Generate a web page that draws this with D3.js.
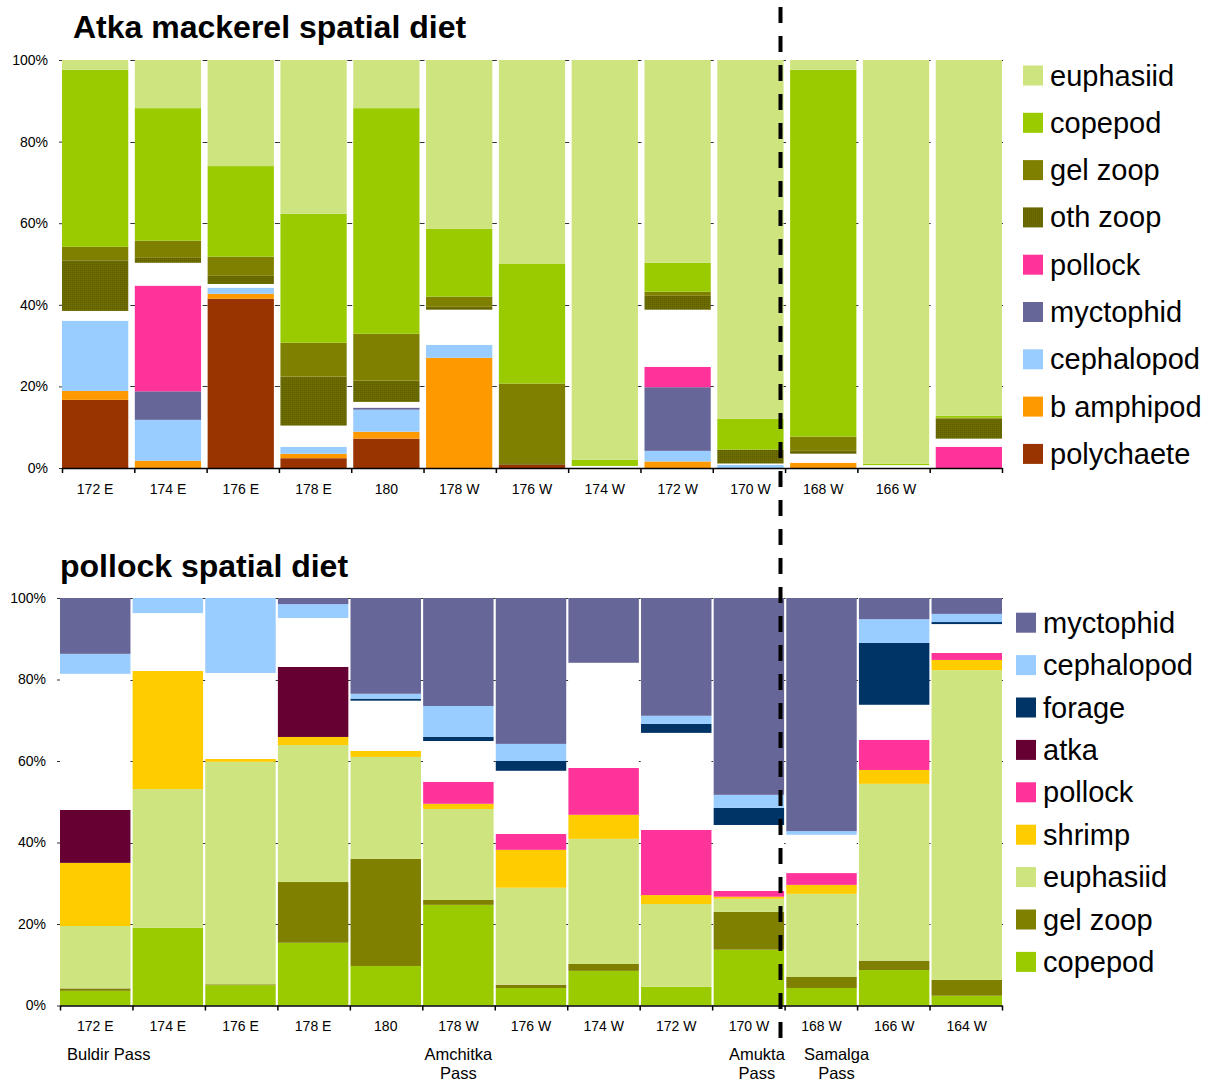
<!DOCTYPE html>
<html>
<head>
<meta charset="utf-8">
<script src="https://cdn.jsdelivr.net/npm/d3@7"></script>
<style>
  body { margin: 0; background: #fff; }
  text { font-family: "Liberation Sans", Arial, sans-serif; fill: #000; }
</style>
</head>
<body>
<svg id="svg" width="1205" height="1084"></svg>
<script>
// sites, west to east (same for both panels)
const sites = ["172 E", "174 E", "176 E", "178 E", "180", "178 W", "176 W", "174 W", "172 W", "170 W", "168 W", "166 W", "164 W"];
const atkaTickLabels = ["172 E", "174 E", "176 E", "178 E", "180", "178 W", "176 W", "174 W", "172 W", "170 W", "168 W", "166 W", ""];
const yTicks = [0, 0.2, 0.4, 0.6, 0.8, 1];

// Atka mackerel diet, percent by prey (bottom of stack first)
const atkaPolychaete = [16.7, 0, 41.5, 2.4, 7.2, 0, 0.8, 0, 0, 0, 0, 0, 0];
const atkaBAmphipod  = [2.2, 1.8, 1.2, 1.1, 1.7, 27.0, 0, 0, 1.6, 0, 1.3, 0, 0];
const atkaCephalopod = [17.2, 10.0, 1.5, 1.7, 5.4, 3.2, 0, 0, 2.6, 0.8, 0, 0, 0];
const atkaMyctophid  = [0, 7.0, 0, 0, 0.5, 0, 0, 0, 15.6, 0, 0, 0, 0];
const atkaPollock    = [0, 25.9, 0, 0, 0, 0, 0, 0, 5.0, 0, 0, 0, 5.2];
const atkaOther      = [2.4, 5.6, 0.9, 5.2, 1.4, 8.6, 0, 0.5, 14.0, 0.3, 2.2, 0.7, 2.0];
const atkaOthZoop    = [12.4, 1.2, 2.0, 12.0, 5.2, 0.7, 0.4, 0, 3.4, 3.4, 0.7, 0, 4.9];
const atkaGelZoop    = [3.3, 4.2, 4.7, 8.3, 11.5, 2.5, 19.5, 0, 1.0, 0, 3.5, 0, 0.2];
const atkaCopepod    = [43.4, 32.5, 22.2, 31.6, 55.3, 16.6, 29.3, 1.5, 7.1, 7.6, 89.9, 0.3, 0.5];
const atkaEuphasiid  = [2.4, 11.8, 26.0, 37.7, 11.8, 41.4, 50.0, 98.0, 49.7, 87.9, 2.4, 99.0, 87.2];

// pollock diet, percent by prey (bottom of stack first)
const pollCopepod    = [3.6, 19.1, 5.0, 15.4, 9.7, 24.7, 4.3, 8.5, 4.6, 13.7, 4.3, 8.7, 2.4];
const pollGelZoop    = [0.6, 0, 0.2, 14.9, 26.3, 1.2, 0.8, 1.7, 0, 9.3, 2.7, 2.3, 3.9];
const pollEuphasiid  = [15.3, 34.0, 54.6, 33.6, 25.0, 22.3, 23.8, 30.7, 20.3, 3.2, 20.4, 43.4, 76.0];
const pollShrimp     = [15.5, 29.0, 0.7, 2.0, 1.5, 1.3, 9.3, 5.9, 2.2, 0.5, 2.2, 3.4, 2.5];
const pollPollock    = [0, 0, 0, 0, 0, 5.4, 3.9, 11.5, 16.0, 1.4, 2.9, 7.4, 1.7];
const pollAtka       = [13.0, 0, 0, 17.2, 0, 0, 0, 0, 0, 0, 0, 0, 0];
const pollOther      = [33.4, 14.2, 21.1, 12.0, 12.3, 10.0, 15.5, 25.8, 23.8, 16.2, 9.4, 8.6, 7.1];
const pollForage     = [0, 0, 0, 0, 0.5, 1.0, 2.4, 0, 2.2, 4.2, 0, 15.2, 0.5];
const pollCephalopod = [4.9, 3.7, 18.4, 3.4, 1.2, 7.6, 4.2, 0, 2.0, 3.2, 0.9, 5.8, 2.0];
const pollMyctophid  = [13.7, 0, 0, 1.5, 23.5, 26.5, 35.8, 15.9, 28.9, 48.3, 57.2, 5.2, 3.9];

const passNames = [["Buldir Pass"], ["Amchitka", "Pass"], ["Amukta", "Pass"], ["Samalga", "Pass"]];
const passSites = [null, "178 W", "170 W", "168 W"];

const colors = {
  euphasiid: "#cde47f", copepod: "#9acb00", "gel zoop": "#808000", "oth zoop": "url(#othzoop)",
  pollock: "#ff3399", myctophid: "#666699", cephalopod: "#99ccff", "b amphipod": "#ff9900",
  polychaete: "#993300", forage: "#003366", atka: "#660033", shrimp: "#ffcc00", other: "#ffffff"
};

const svg = d3.select("#svg");
const defs = svg.append("defs");
const pat = defs.append("pattern").attr("id", "othzoop").attr("patternUnits", "userSpaceOnUse")
  .attr("width", 2).attr("height", 2);
pat.append("rect").attr("width", 2).attr("height", 2).attr("fill", "#6c6c00");
pat.append("rect").attr("width", 1).attr("height", 1).attr("fill", "#5c5c00");

function drawChart(cfg) {
  const g = svg.append("g");
  const keys = cfg.series.map(s => s.key);
  const rows = sites.map((s, i) => {
    const r = { site: s };
    cfg.series.forEach(ser => r[ser.key] = ser.values[i]);
    return r;
  });

  const x = d3.scaleBand().domain(sites).range([cfg.left, cfg.right])
    .paddingInner(cfg.pad).paddingOuter(0).align(0);
  const xb = d3.scaleLinear().domain([0, sites.length]).range([cfg.left, cfg.right]);
  const y = d3.scaleLinear().domain([0, 1]).range([cfg.bottom, cfg.top]);

  // little gridline stubs showing in the gaps between bars
  const stubs = [];
  yTicks.slice(1).forEach(t => d3.range(1, sites.length + 1).forEach(k => stubs.push({ t, k })));
  g.append("g").selectAll("line").data(stubs).join("line")
    .attr("x1", d => xb(d.k) - 4).attr("x2", d => xb(d.k) + 1)
    .attr("y1", d => Math.round(y(d.t)) + 0.5).attr("y2", d => Math.round(y(d.t)) + 0.5)
    .attr("stroke", "#333").attr("stroke-width", 1);

  const stacked = d3.stack().keys(keys).offset(d3.stackOffsetExpand)(rows);
  g.append("g").selectAll("g").data(stacked).join("g")
    .attr("fill", d => colors[d.key])
    .selectAll("rect").data(d => d).join("rect")
      .attr("x", d => x(d.data.site))
      .attr("width", x.bandwidth())
      .attr("y", d => y(d[1]))
      .attr("height", d => y(d[0]) - y(d[1]));

  // y axis labels
  const ya = g.append("g").attr("transform", `translate(${cfg.left},0)`)
    .call(d3.axisLeft(y).tickValues(yTicks).tickFormat(d3.format(".0%")).tickSize(3).tickPadding(11));
  ya.select(".domain").remove();
  ya.selectAll("line").attr("stroke", "#333");
  ya.selectAll("text").attr("font-size", "14px").attr("font-family", null);

  // x axis line and boundary ticks
  const xa = g.append("g").attr("transform", `translate(0,${cfg.bottom})`)
    .call(d3.axisBottom(xb).tickValues(d3.range(0, sites.length + 1)).tickFormat("").tickSize(5).tickSizeOuter(0));
  xa.select(".domain").attr("stroke-width", 1.5);
  xa.selectAll("line").attr("stroke-width", 1.5);

  const xl = g.append("g").attr("transform", `translate(0,${cfg.bottom})`)
    .call(d3.axisBottom(x).tickSize(0).tickPadding(16).tickFormat((d, i) => cfg.tickLabels[i]));
  xl.select(".domain").remove();
  xl.selectAll("text").attr("font-size", "14px").attr("font-family", null);

  // title
  g.append("text").attr("x", cfg.titleX).attr("y", cfg.titleY)
    .attr("font-size", "32px").attr("font-weight", "bold").text(cfg.title);

  // legend
  const lg = g.append("g").selectAll("g").data(cfg.legend).join("g")
    .attr("transform", (d, i) => `translate(${cfg.legX},${cfg.legY + i * cfg.legStep})`);
  lg.append("rect").attr("x", 0).attr("y", -10).attr("width", 20).attr("height", 20)
    .attr("fill", d => colors[d]);
  lg.append("text").attr("x", 27).attr("y", 10).attr("font-size", "29px").text(d => d);
  return x;
}

drawChart({
  title: "Atka mackerel spatial diet", titleX: 73, titleY: 38,
  left: 62, right: 1002, top: 60, bottom: 468, pad: 0.09,
  tickLabels: atkaTickLabels,
  series: [
    { key: "polychaete", values: atkaPolychaete },
    { key: "b amphipod", values: atkaBAmphipod },
    { key: "cephalopod", values: atkaCephalopod },
    { key: "myctophid", values: atkaMyctophid },
    { key: "pollock", values: atkaPollock },
    { key: "other", values: atkaOther },
    { key: "oth zoop", values: atkaOthZoop },
    { key: "gel zoop", values: atkaGelZoop },
    { key: "copepod", values: atkaCopepod },
    { key: "euphasiid", values: atkaEuphasiid }
  ],
  legend: ["euphasiid", "copepod", "gel zoop", "oth zoop", "pollock", "myctophid", "cephalopod", "b amphipod", "polychaete"],
  legX: 1023, legY: 75.5, legStep: 47.3
});

const xp = drawChart({
  title: "pollock spatial diet", titleX: 60, titleY: 577,
  left: 60, right: 1002, top: 598, bottom: 1005.5, pad: 0.03,
  tickLabels: sites,
  series: [
    { key: "copepod", values: pollCopepod },
    { key: "gel zoop", values: pollGelZoop },
    { key: "euphasiid", values: pollEuphasiid },
    { key: "shrimp", values: pollShrimp },
    { key: "pollock", values: pollPollock },
    { key: "atka", values: pollAtka },
    { key: "other", values: pollOther },
    { key: "forage", values: pollForage },
    { key: "cephalopod", values: pollCephalopod },
    { key: "myctophid", values: pollMyctophid }
  ],
  legend: ["myctophid", "cephalopod", "forage", "atka", "pollock", "shrimp", "euphasiid", "gel zoop", "copepod"],
  legX: 1016, legY: 622.7, legStep: 42.4
});

// pass names under the lower panel
const passShift = [0, 0, 8, 15];
const passG = svg.append("g");
passNames.forEach((lines, i) => {
  const px = i === 0 ? 67 : xp(passSites[i]) + xp.bandwidth() / 2 + passShift[i];
  const t = passG.append("text").attr("font-size", "16.5px")
    .attr("x", px).attr("y", 1060)
    .attr("text-anchor", i === 0 ? "start" : "middle");
  lines.forEach((l, j) => t.append("tspan").attr("x", px).attr("dy", j ? 19 : 0).text(l));
});

// dashed divider
svg.append("line").attr("x1", 780.5).attr("x2", 780.5).attr("y1", 7).attr("y2", 1046)
  .attr("stroke", "#000").attr("stroke-width", 4).attr("stroke-dasharray", "16,13");
</script>
</body>
</html>
